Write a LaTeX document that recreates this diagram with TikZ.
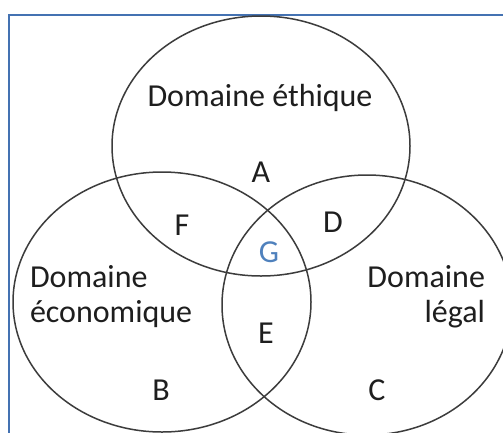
\documentclass[tikz,border=0pt]{standalone}
\usepackage{fontspec}
\setmainfont{Carlito}
\usetikzlibrary{shapes.geometric}
\definecolor{framblue}{RGB}{68,114,178}
\definecolor{gblue}{RGB}{79,129,189}
\definecolor{circgray}{RGB}{60,60,60}
\definecolor{txtgray}{RGB}{30,30,30}
\begin{document}
\begin{tikzpicture}[x=1pt,y=-1pt,
  venn/.style={draw=circgray,line width=1.5pt,ellipse,inner sep=0pt,outer sep=0pt},
  lbl/.style={inner sep=0pt,outer sep=0pt,text=txtgray,font=\fontsize{32}{38}\selectfont},
]
\useasboundingbox (0,0) rectangle (503,432);
\clip (0,0) rectangle (503,432);
\fill[white] (0,0) rectangle (503,432);
\node[draw=framblue,line width=2.5pt,inner sep=0pt,outer sep=0pt,anchor=north west,
  minimum width=530pt,minimum height=450pt] (frame) at (9,15) {};
\node[venn,minimum width=298pt,minimum height=260pt] (eth) at (261,146) {};
\node[venn,minimum width=298pt,minimum height=260pt] (eco) at (162,302) {};
\node[venn,minimum width=290pt,minimum height=260pt] (leg) at (367,305) {};
% region titles
\node[lbl,anchor=base] (teth) at (260,106) {Domaine éthique};
\node[lbl,anchor=base west] (teco1) at (30,287) {Domaine};
\node[lbl,anchor=base west] (teco2) at (30,322) {économique};
\node[lbl,anchor=base east] (tleg1) at (485,287) {Domaine};
\node[lbl,anchor=base east] (tleg2) at (485,322) {légal};
% region letters
\node[lbl,anchor=base] (A) at (261,182) {A};
\node[lbl,anchor=base] (F) at (182,235) {F};
\node[lbl,anchor=base] (D) at (333,232) {D};
\node[lbl,anchor=base,text=gblue] (G) at (269,262) {G};
\node[lbl,anchor=base] (E) at (266,343) {E};
\node[lbl,anchor=base] (B) at (161,400) {B};
\node[lbl,anchor=base] (C) at (377,400) {C};
\end{tikzpicture}
\end{document}
